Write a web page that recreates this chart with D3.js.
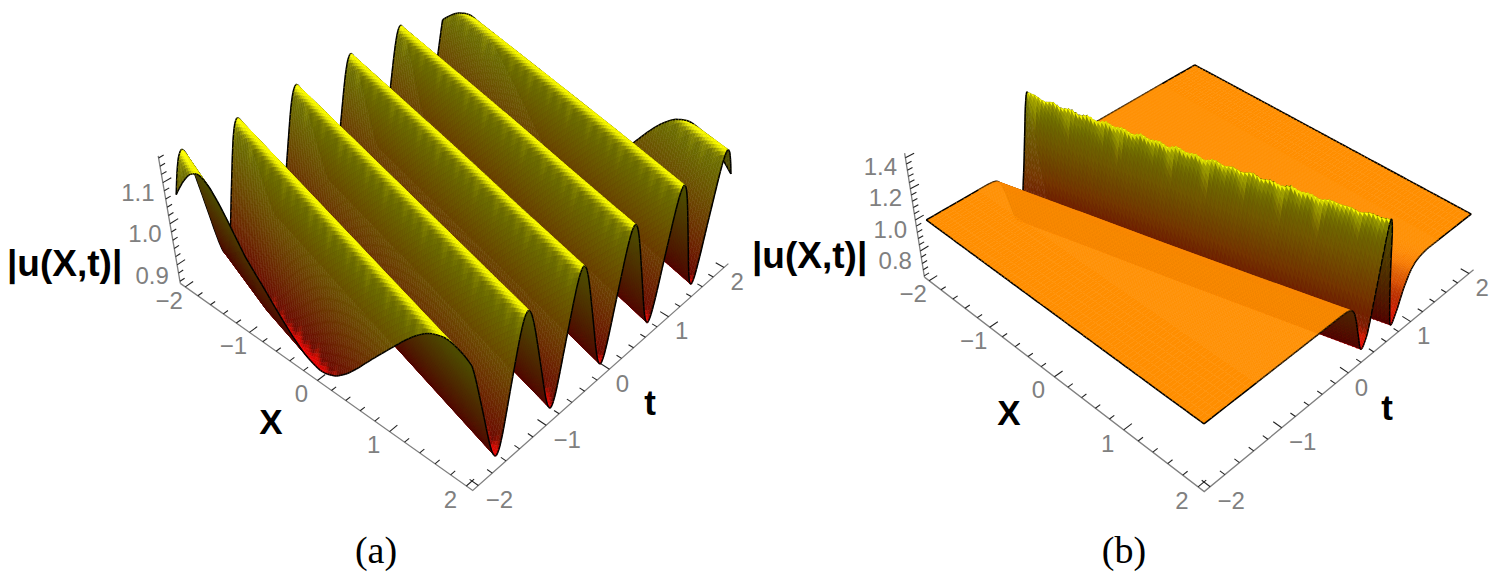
<!DOCTYPE html>
<html><head><meta charset="utf-8">
<script src="https://cdnjs.cloudflare.com/ajax/libs/d3/7.8.5/d3.min.js"></script>
<style>html,body{margin:0;background:#fff}svg{display:block}text{font-family:"Liberation Sans",Arial,sans-serif}</style>
</head><body><svg id="c" width="1498" height="580"></svg>
<script>
// ---------- values ----------
const xTicks=[-2,-1,0,1,2], tTicks=[-2,-1,0,1,2];
const uTicksA=[0.9,1.0,1.1], uTicksB=[0.8,1.0,1.2,1.4];
const crestX=[-2,-1,0,1,2];
// panel (a): t position of every ridge crest at X = -2,-1,0,1,2
const crestPrev=[-2.68,-2.96,-3.2,-3.45,-3.69];
const crest0=[-1.85,-2.2,-2.42,-2.65,-2.88];
const crest1=[-1.11,-1.35,-1.59,-1.83,-2.07];
const crest2=[-0.28,-0.52,-0.76,-1.0,-1.24];
const crest3=[0.53,0.29,0.05,-0.2,-0.44];
const crest4=[1.31,1.07,0.83,0.58,0.34];
const crest5=[2.1,1.86,1.62,1.38,1.13];
const crest6=[2.82,2.58,2.34,2.1,1.87];
const crestNext=[3.65,3.41,3.17,2.93,2.68];
// panel (a): |u| across one crest-to-crest period
const periodA=[0,.05,.1,.15,.2,.25,.3,.35,.4,.45,.5,.55,.6,.65,.7,.75,.8,.85,.9,.95,1];
const profileA=[1.165,1.155,1.13,1.095,1.055,1.015,.975,.935,.9,.875,.865,.875,.9,.935,.975,1.015,1.055,1.095,1.13,1.155,1.165];
const teethA=[.9,.5,1,.6,.8,.4,1,.7,.5,.9,.6,1,.5,.8,.7,1,.4,.9,.6,.8,1,.5,.7,.9];
// panel (b): ridge crest position, and |u| against the distance from the crest
const crestB=[-0.53,-0.25,0.02,0.3,0.58];
const offsetB=[-4,-1,-.7,-.6,-.53,-.47,-.42,-.37,-.29,-.22,-.15,-.08,-.03,0,.03,.07,.12,.18,.25,.35,.45,.55,.7,1,4];
const profileB=[1,1,1,.998,.99,.96,.89,.79,.66,.72,.93,1.18,1.36,1.42,1.36,1.1,.84,.66,.72,.86,.95,.985,1,1,1];
const bumpsB=[.04,.035,.01,.03,.005,.025,.0,.02,-.005,.02,.0,.015,-.01,.015,-.005,.01,-.015,.015,-.01,.005,-.02,.01,-.015,.0,-.02,.005,-.02,-.005,-.025,.0,-.02,-.01,-.03,-.01,-.02,-.015,-.03,-.01,-.02,-.01];
const teethB=[1,.3,.8,.2,.6,1,.3,.5,.9,.2,1,.4,.7,.2,.9,.4,1,.3,.6,.4];

// ---------- drawing ----------
function hermite(xs,ys){
  const n=xs.length,d=[],m=new Array(n).fill(0);
  for(let i=0;i<n-1;i++)d.push((ys[i+1]-ys[i])/(xs[i+1]-xs[i]));
  for(let i=1;i<n-1;i++)m[i]=d[i-1]*d[i]<=0?0:2*d[i-1]*d[i]/(d[i-1]+d[i]);
  return x=>{
    let i=Math.max(0,Math.min(n-2,d3.bisectRight(xs,x)-1));
    const w=xs[i+1]-xs[i],s=(x-xs[i])/w,s2=s*s,s3=s2*s;
    return (2*s3-3*s2+1)*ys[i]+(s3-2*s2+s)*w*m[i]+(-2*s3+3*s2)*ys[i+1]+(s3-s2)*w*m[i+1];
  };
}
function quadMap(p0,p1,p2,p3){
  const dx1=p1[0]-p2[0],dx2=p3[0]-p2[0],sx=p0[0]-p1[0]+p2[0]-p3[0];
  const dy1=p1[1]-p2[1],dy2=p3[1]-p2[1],sy=p0[1]-p1[1]+p2[1]-p3[1];
  const den=dx1*dy2-dx2*dy1,g=(sx*dy2-dx2*sy)/den,h=(dx1*sy-sx*dy1)/den;
  const a=p1[0]-p0[0]+g*p1[0],b=p3[0]-p0[0]+h*p3[0],c=p0[0];
  const d=p1[1]-p0[1]+g*p1[1],e=p3[1]-p0[1]+h*p3[1],f=p0[1];
  return (s,v)=>{const w=g*s+h*v+1;return [(a*s+b*v+c)/w,(d*s+e*v+f)/w];};
}
function makeProjection(cfg){
  const base=quadMap(...cfg.corners);
  const sx=d3.scaleLinear([-2,2],[0,1]), sv=d3.scaleLinear([-2,2],[0,1]);
  const [S0,S1,S2,S3]=cfg.scale;
  return (X,t,u)=>{
    const s=sx(X),v=sv(t),[bx,by]=base(s,v);
    const S=(S0*(1-s)+S1*s)*(1-v)+(S3*(1-s)+S2*s)*v;
    const H=(u-cfg.u0)*S;
    return [bx+(bx-cfg.vp[0])/(cfg.vp[1]-by)*H,by-H];
  };
}
const crestLinesA=[crestPrev,crest0,crest1,crest2,crest3,crest4,crest5,crest6,crestNext].map(c=>d3.scaleLinear(crestX,c));
const periodFn=hermite(periodA,profileA);
const offsetFn=hermite(offsetB,profileB);
const crestLineB=d3.scaleLinear(crestX,crestB);
const bumpFn=d3.scaleLinear(d3.range(bumpsB.length).map(i=>-2+4*i/(bumpsB.length-1)),bumpsB);
function surfaceA(X,t){
  const ts=crestLinesA.map(f=>f(X));
  let k=0;while(k<ts.length-2&&t>=ts[k+1])k++;
  return {u:periodFn((t-ts[k])/(ts[k+1]-ts[k])),k,top:1.165};
}
function surfaceB(X,t){
  const u=offsetFn(t-crestLineB(X)),b=bumpFn(X);
  return {u:u+b*Math.max(0,(u-1)/.42),k:0,top:1.42+b};
}
function toothValue(teeth,X,k){
  const n=teeth.length,x=(X+2)/4*n+k*.37;
  const i=Math.floor(x),f=x-i;
  return teeth[((i%n)+n)%n]*(1-Math.abs(2*f-1));
}
const svg=d3.select("#c");
function drawSurface(cfg){
  const P=makeProjection(cfg),items=[];
  const Xs=d3.range(cfg.cols+1).map(i=>-2+4*i/cfg.cols),ts=cfg.rows;
  const hScale=d3.scaleLinear([cfg.uMin,cfg.uMax],[0,1]).clamp(true);
  const fmt=p=>p[0].toFixed(2)+","+p[1].toFixed(2);
  for(let r=ts.length-2;r>=0;r--)for(let c=0;c<cfg.cols;c++){
    const X0=Xs[c],X1=Xs[c+1],t0=ts[r],t1=ts[r+1];
    const p00=P(X0,t0,cfg.fn(X0,t0).u),p10=P(X1,t0,cfg.fn(X1,t0).u),p11=P(X1,t1,cfg.fn(X1,t1).u),p01=P(X0,t1,cfg.fn(X0,t1).u);
    const Xm=(X0+X1)/2,tm=(t0+t1)/2,mid=cfg.fn(Xm,tm);
    const ut=(cfg.fn(Xm,tm+.004).u-cfg.fn(Xm,tm-.004).u)/.008;
    const area=(p10[0]-p00[0])*(p11[1]-p00[1])-(p10[1]-p00[1])*(p11[0]-p00[0])
              +(p11[0]-p00[0])*(p01[1]-p00[1])-(p11[1]-p00[1])*(p01[0]-p00[0]);
    const tooth=toothValue(cfg.teeth,Xm,mid.k);
    const flat=Math.exp(-Math.pow(ut/cfg.s0,2));
    const du=mid.top-mid.u;
    const band=Math.exp(-Math.pow(du/cfg.dep,2));
    const spike=cfg.spike*Math.exp(-Math.pow(du/(cfg.dep*(1+cfg.gain*tooth)),2));
    const floorGlow=cfg.floor*Math.exp(-Math.pow((mid.u-cfg.uMin)/(cfg.floorDep*(1+cfg.gain*tooth)),2));
    let B=.42+.58*Math.max(flat,band,spike,floorGlow);
    if(area>0)B=cfg.back;
    const g=Math.pow(Math.min(1,hScale(mid.u)*1.15),.85);
    const col=d3.rgb(255*B,255*g*B,0).formatHex();
    items.push({d:"M"+fmt(p00)+"L"+fmt(p10)+"L"+fmt(p11)+"L"+fmt(p01)+"Z",fill:col,stroke:col,w:.5});
    const edge=(a,b)=>items.push({d:"M"+fmt(a)+"L"+fmt(b),fill:"none",stroke:"#000",w:1.5});
    if(r===ts.length-2)edge(p01,p11);
    if(c===0)edge(p00,p01);
    if(r===0)edge(p00,p10);
    if(c===cfg.cols-1)edge(p10,p11);
  }
  svg.append("g").selectAll("path").data(items).join("path")
    .attr("d",d=>d.d).attr("fill",d=>d.fill).attr("stroke",d=>d.stroke).attr("stroke-width",d=>d.w);
  drawAxes(cfg,P);
}
function drawAxes(cfg,P){
  const g=svg.append("g");
  const e=2.08,line=d3.line();
  const A=P(-e,-e,cfg.u0),B=P(e,-e,cfg.u0),C=P(e,e,cfg.u0),T=P(-e,-e,cfg.uTop);
  g.append("path").attr("d",line([A,B,C])).attr("fill","none").attr("stroke","#808080").attr("stroke-width",1.3);
  g.append("path").attr("d",line([A,T])).attr("fill","none").attr("stroke","#808080").attr("stroke-width",1.3);
  const tick=(a,b)=>g.append("path").attr("d",line([a,b])).attr("stroke","#222").attr("stroke-width",1.1).attr("fill","none");
  const label=(p,off,s,fs)=>g.append("text").attr("x",p[0]+off[0]).attr("y",p[1]+off[1]).attr("dy",".36em")
     .attr("text-anchor","middle").attr("font-size",fs).attr("fill","#808080").text(s);
  const nm=v=>(v<0?"\u2212":"")+Math.abs(v);
  d3.range(-10,11).forEach(i=>{const v=i/5,maj=i%5===0,l=maj?.11:.065;
    tick(P(v,-e,cfg.u0),P(v,-e+l,cfg.u0));
    tick(P(e,v,cfg.u0),P(e-l,v,cfg.u0));
  });
  xTicks.forEach(v=>label(P(v,-e,cfg.u0),cfg.xOff,nm(v),cfg.fs));
  tTicks.forEach(v=>label(P(e,v,cfg.u0),v<0?cfg.tOffNeg:cfg.tOff,nm(v),cfg.fs));
  const ustep=cfg.uMinor,first=Math.ceil(cfg.u0/ustep-1e-6);
  for(let i=first;i*ustep<=cfg.uTop+1e-6;i++){
    const v=i*ustep,maj=cfg.uTicks.some(m=>Math.abs(m-v)<1e-6);
    tick(P(-e,-e,v),P(-e,-e+(maj?.11:.065),v));
  }
  cfg.uTicks.forEach(v=>label(P(-e,-e,v),cfg.uOff,v.toFixed(1),cfg.fs));
}
drawSurface({
  corners:[[191,283],[472,481],[718,264],[444,110]],scale:[410,405,388,350],vp:[473,1973],u0:.855,uTop:1.165,
  uMin:.865,uMax:1.165,fn:surfaceA,cols:120,rows:d3.range(241).map(i=>-2+4*i/240),
  s0:.06,dep:.012,gain:2.8,spike:.22,floor:.8,floorDep:.006,back:.3,teeth:teethA,uTicks:uTicksA,uMinor:.02,
  xOff:[-16,13],tOff:[13,14],tOffNeg:[21,14],uOff:[-25,10],fs:24
});
drawSurface({
  corners:[[935,277],[1204,482],[1463,270],[1195,112]],scale:[155,158,152,128],vp:[1204,2028],u0:.632,uTop:1.43,
  uMin:.66,uMax:1.44,fn:surfaceB,cols:90,
  rows:[...d3.range(-2,-1.3,.1),...d3.range(-1.3,1.45,.012),...d3.range(1.45,2,.1),2],
  s0:2,dep:.025,gain:6,spike:.4,floor:0,floorDep:.01,back:.3,teeth:teethB,uTicks:uTicksB,uMinor:.04,
  xOff:[-16,13],tOff:[13,14],tOffNeg:[21,14],uOff:[-25,9],fs:24
});
const bold=(x,y,s,anchor,fs)=>svg.append("text").attr("x",x).attr("y",y).attr("text-anchor",anchor||"middle")
  .attr("font-size",fs||35).attr("font-weight","bold").attr("fill","#000").text(s);
bold(7,276,"|u(X,t)|","start",37);bold(752,268,"|u(X,t)|","start",37);
bold(271,434,"X");bold(650,415,"t");bold(1009,425,"X");bold(1387,420,"t");
[["(a)",376],["(b)",1124]].forEach(([s,x])=>svg.append("text").attr("x",x).attr("y",563).attr("text-anchor","middle")
  .style("font-family","'Liberation Serif',serif").attr("font-size",38).attr("fill","#000").text(s));
</script></body></html>
